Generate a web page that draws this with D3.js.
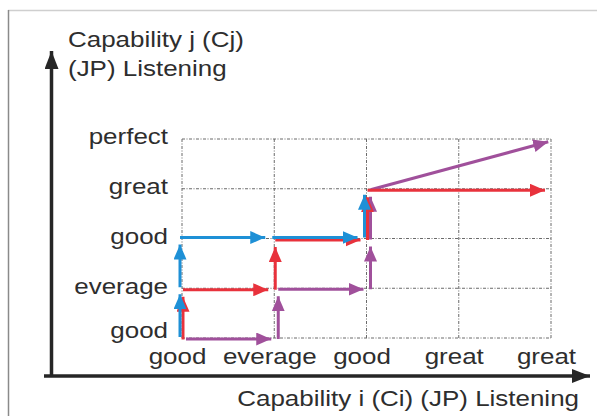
<!DOCTYPE html>
<html>
<head>
<meta charset="utf-8">
<script src="https://cdn.jsdelivr.net/npm/d3@7"></script>
<style>
  body { margin: 0; background: #fff; }
  svg { display: block; }
  text { font-family: "Liberation Sans", Arial, sans-serif; fill: #2e2e2e; }
</style>
</head>
<body>
<svg id="chart"></svg>
<script>
// Set dimensions
var width = 597,
    height = 416,
    sx = 1.18; // text in the picture is drawn a bit wide

// Data
var xLabels = ["good", "everage", "good", "great", "great"];
var yLabels = ["good", "everage", "good", "great", "perfect"];

// each path is a list of [x index, y index] steps
var purpleSteps = [[0, 0], [1, 0], [1, 1], [2, 1], [2, 2], [2, 3], [4, 4]];
var redSteps    = [[0, 0], [0, 1], [1, 1], [1, 2], [2, 2], [2, 3], [4, 3]];
var blueSteps   = [[0, 0], [0, 1], [0, 2], [1, 2], [2, 2], [2, 3]];

var series = [
    { name: "purple", color: "#a0509b", steps: purpleSteps, dx: 4, dy: 1 },
    { name: "red",    color: "#e8323c", steps: redSteps,    dx: 1, dy: 1.5 },
    { name: "blue",   color: "#1e90d6", steps: blueSteps,   dx: -2, dy: -1 }
];

// Scales
var x = d3.scaleLinear().domain([0, 4]).range([182, 551]);
var y = d3.scaleLinear().domain([0, 4]).range([338, 139]);

var svg = d3.select("#chart")
    .attr("width", width)
    .attr("height", height);

// frame
svg.append("line")
    .attr("x1", 8).attr("y1", 10.5).attr("x2", width).attr("y2", 10.5)
    .attr("stroke", "#cfcfcf").attr("stroke-width", 1.5);
svg.append("line")
    .attr("x1", 8.5).attr("y1", 10).attr("x2", 8.5).attr("y2", height)
    .attr("stroke", "#8a8a8a").attr("stroke-width", 1.5);

// markers
var defs = svg.append("defs");
series.forEach(function(s) {
    defs.append("marker")
        .attr("id", "arrow-" + s.name)
        .attr("viewBox", "0 0 15 13")
        .attr("markerUnits", "userSpaceOnUse")
        .attr("markerWidth", 15)
        .attr("markerHeight", 13)
        .attr("refX", 15)
        .attr("refY", 6.5)
        .attr("orient", "auto")
        .append("path")
        .attr("d", "M0,0 L15,6.5 L0,13 Z")
        .attr("fill", s.color);
});
defs.append("marker")
    .attr("id", "arrow-axis")
    .attr("viewBox", "0 0 18 14")
    .attr("markerUnits", "userSpaceOnUse")
    .attr("markerWidth", 18)
    .attr("markerHeight", 14)
    .attr("refX", 18)
    .attr("refY", 7)
    .attr("orient", "auto")
    .append("path")
    .attr("d", "M0,0 L18,7 L0,14 Z")
    .attr("fill", "#262626");

// grid
var grid = svg.append("g").attr("class", "grid")
    .attr("stroke", "#6a6a6a")
    .attr("stroke-width", 1)
    .attr("stroke-dasharray", "3,1.5,1,1.5");

grid.selectAll(".vline")
    .data(d3.range(xLabels.length))
    .enter().append("line")
    .attr("x1", function(d) { return x(d); })
    .attr("x2", function(d) { return x(d); })
    .attr("y1", y(4))
    .attr("y2", y(0));

grid.selectAll(".hline")
    .data(d3.range(yLabels.length))
    .enter().append("line")
    .attr("x1", x(0))
    .attr("x2", x(4))
    .attr("y1", function(d) { return y(d); })
    .attr("y2", function(d) { return y(d); });

// tick labels
var yAxis = svg.append("g")
    .attr("transform", "translate(" + x(0) + ",0)")
    .call(d3.axisLeft(y)
        .tickValues(d3.range(yLabels.length))
        .tickFormat(function(i) { return yLabels[i]; })
        .tickSize(0)
        .tickPadding(14));
yAxis.select(".domain").remove();
yAxis.selectAll("text")
    .style("font-size", "22px")
    .attr("x", -14 / sx)
    .attr("dy", function(d) { return d === 0 ? "-0.02em" : "0.22em"; })
    .attr("transform", "scale(" + sx + ",1)");

var xAxis = svg.append("g")
    .attr("transform", "translate(0," + y(0) + ")")
    .call(d3.axisBottom(x)
        .tickValues(d3.range(xLabels.length))
        .tickFormat(function(i) { return xLabels[i]; })
        .tickSize(0)
        .tickPadding(10));
xAxis.select(".domain").remove();
xAxis.selectAll("text")
    .style("font-size", "22px")
    .attr("x", -5 / sx)
    .attr("transform", "scale(" + sx + ",1)");

// axes with arrows
svg.append("line")
    .attr("x1", 51.5).attr("y1", 377).attr("x2", 51.5).attr("y2", 51)
    .attr("stroke", "#262626").attr("stroke-width", 3.5)
    .attr("marker-end", "url(#arrow-axis)");
svg.append("line")
    .attr("x1", 44).attr("y1", 376).attr("x2", 590).attr("y2", 376)
    .attr("stroke", "#262626").attr("stroke-width", 3.5)
    .attr("marker-end", "url(#arrow-axis)");

// axis titles
function title(tx, ty, str, anchor) {
    svg.append("text")
        .attr("transform", "translate(" + tx + "," + ty + ") scale(" + sx + ",1)")
        .attr("text-anchor", anchor)
        .style("font-size", "22px")
        .text(str);
}
title(68, 47, "Capability j (Cj)", "start");
title(68, 76, "(JP) Listening", "start");
title(579, 406, "Capability i (Ci) (JP) Listening", "end");

// step arrows
series.forEach(function(s) {
    var g = svg.append("g").attr("class", "series-" + s.name);
    var segs = d3.pairs(s.steps);
    g.selectAll("line")
        .data(segs)
        .enter().append("line")
        .each(function(d) {
            var x1 = x(d[0][0]) + s.dx, y1 = y(d[0][1]) + s.dy,
                x2 = x(d[1][0]) + s.dx, y2 = y(d[1][1]) + s.dy,
                len = Math.sqrt((x2 - x1) * (x2 - x1) + (y2 - y1) * (y2 - y1)),
                k = (len - 7) / len;
            d3.select(this)
                .attr("x1", x1).attr("y1", y1)
                .attr("x2", x1 + (x2 - x1) * k)
                .attr("y2", y1 + (y2 - y1) * k);
        })
        .attr("stroke", s.color)
        .attr("stroke-width", 3)
        .attr("marker-end", "url(#arrow-" + s.name + ")");
});
</script>
</body>
</html>
